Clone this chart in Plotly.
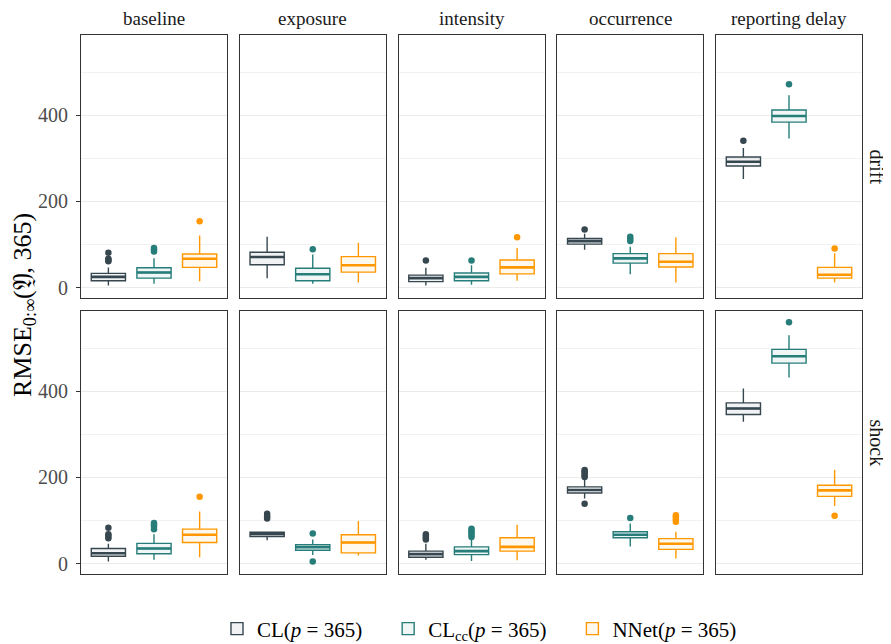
import plotly.graph_objects as go

# ---------------- data ----------------
scenarios = ["baseline", "exposure", "intensity", "occurrence", "reporting delay"]
rows = ["drift", "shock"]
methods = ["CL(<i>p</i> = 365)", "CL<sub>cc</sub>(<i>p</i> = 365)", "NNet(<i>p</i> = 365)"]
colors = ["#37474f", "#267d79", "#ff9800"]
fills = ["rgba(55,71,79,0.07)", "rgba(38,125,121,0.07)", "rgba(255,152,0,0.07)"]

# stats per row -> scenario -> method : [lowerfence, q1, median, q3, upperfence]
stats_drift = {
    "baseline":        [[5, 16, 25, 33, 47], [9, 22, 35, 46, 68], [15, 47, 67, 78, 121]],
    "exposure":        [[22, 53, 71, 82, 118], [9, 16, 31, 45, 77], [12, 36, 52, 72, 104]],
    "intensity":       [[5, 14, 22, 29, 46], [7, 16, 25, 34, 52], [16, 32, 47, 64, 92]],
    "occurrence":      [[88, 101, 108, 114, 125], [31, 57, 68, 79, 95], [12, 48, 60, 79, 117]],
    "reporting delay": [[252, 282, 292, 303, 324], [346, 384, 398, 412, 446], [12, 22, 30, 47, 80]],
}
outliers_drift = {
    "baseline":        [[61, 65, 67, 81], [84, 88, 92], [154]],
    "exposure":        [[], [89], []],
    "intensity":       [[63], [63], [117]],
    "occurrence":      [[135], [108, 113, 118], []],
    "reporting delay": [[341], [472], [91]],
}
stats_shock = {
    "baseline":        [[5, 17, 24, 35, 46], [9, 23, 35, 47, 68], [15, 49, 67, 80, 121]],
    "exposure":        [[54, 63, 69, 73, 73], [20, 31, 38, 44, 56], [19, 25, 49, 67, 99]],
    "intensity":       [[9, 15, 22, 29, 46], [6, 21, 29, 39, 56], [8, 29, 39, 60, 90]],
    "occurrence":      [[151, 164, 171, 178, 196], [40, 60, 67, 74, 93], [12, 33, 46, 58, 74]],
    "reporting delay": [[329, 346, 360, 373, 406], [432, 465, 481, 497, 530], [134, 156, 170, 182, 218]],
}
outliers_shock = {
    "baseline":        [[59, 64, 68, 83], [80, 86, 91, 94], [155]],
    "exposure":        [[105, 110, 116], [5, 70], []],
    "intensity":       [[56, 60, 64, 68], [62, 67, 72, 77, 81], []],
    "occurrence":      [[139, 201, 205, 210, 214, 217], [106], [97, 103, 108, 112]],
    "reporting delay": [[], [560], [111]],
}
all_stats = [stats_drift, stats_shock]
all_outliers = [outliers_drift, outliers_shock]

y_ticks = [0, 200, 400]
y_range = [-24, 586]
# --------------------------------------

# page body has an 8px default margin; lay out in window pixels, then shift
OFF = 8
W, H = 891 - OFF, 644 - OFF
L, R, T, B = 81 - OFF, 862 - OFF, 35 - OFF, 574 - OFF
pw, ph = R - L, B - T
col_left = [c - OFF for c in [81, 239.75, 398.5, 557.25, 716]]
col_w = 146
row_top = [r - OFF for r in [35, 311]]
row_h = 263


def px_x(x):
    return (x - OFF - L) / pw


def px_y(y):
    return (B - (y - OFF)) / ph


fig = go.Figure()
layout = {}
box_w = 0.75
serif = "Liberation Serif, DejaVu Serif, serif"
pads = ["&nbsp;" * 4, "&nbsp;" * 4, ""]

for ri in range(2):
    for ci, sc in enumerate(scenarios):
        idx = ri * 5 + ci + 1
        xa = "x" if idx == 1 else f"x{idx}"
        ya = "y" if idx == 1 else f"y{idx}"
        for mi in range(3):
            lf, q1, md, q3, uf = all_stats[ri][sc][mi]
            pos = mi + 1
            fig.add_trace(go.Box(
                x=[pos], q1=[q1], median=[md], q3=[q3], lowerfence=[lf], upperfence=[uf],
                width=box_w, whiskerwidth=0, line=dict(color=colors[mi], width=1.4),
                fillcolor=fills[mi], name=methods[mi] + pads[mi], legendgroup=methods[mi],
                showlegend=(idx == 1), xaxis=xa, yaxis=ya, hoverinfo="skip",
                boxpoints=False))
            # thicker median line
            fig.add_trace(go.Scatter(
                x=[pos - box_w / 2, pos + box_w / 2], y=[md, md], mode="lines",
                line=dict(color=colors[mi], width=2.6), showlegend=False,
                xaxis=xa, yaxis=ya, hoverinfo="skip"))
            outs = all_outliers[ri][sc][mi]
            if outs:
                fig.add_trace(go.Scatter(
                    x=[pos] * len(outs), y=outs, mode="markers",
                    marker=dict(color=colors[mi], size=6.5), showlegend=False,
                    xaxis=xa, yaxis=ya, hoverinfo="skip"))
        x0 = (col_left[ci] - L) / pw
        x1 = (col_left[ci] + col_w - L) / pw
        y1 = (B - row_top[ri]) / ph
        y0 = (B - row_top[ri] - row_h) / ph
        layout["xaxis" if idx == 1 else f"xaxis{idx}"] = dict(
            domain=[x0, x1], anchor=ya, range=[0.4, 3.6], showticklabels=False,
            showgrid=False, zeroline=False, ticks="", mirror=True, showline=True,
            linecolor="#333333", linewidth=1.1, fixedrange=True)
        layout["yaxis" if idx == 1 else f"yaxis{idx}"] = dict(
            domain=[y0, y1], anchor=xa, range=y_range, tickvals=y_ticks,
            showticklabels=(ci == 0), ticks="outside" if ci == 0 else "",
            ticklen=4, tickcolor="#333333", tickwidth=1, ticklabelstandoff=4,
            tickfont=dict(family=serif, size=20, color="#4d4d4d"),
            showgrid=True, gridcolor="#ebebeb", gridwidth=1.1, zeroline=False,
            minor=dict(tickvals=[100, 300, 500], showgrid=True, gridcolor="#f2f2f2", gridwidth=0.8, ticks=""),
            mirror=True, showline=True, linecolor="#333333", linewidth=1.1, fixedrange=True)

annotations = []
for ci, sc in enumerate(scenarios):
    xc = (col_left[ci] + col_w / 2 - L) / pw
    annotations.append(dict(text=sc, x=xc, y=px_y(18), xref="paper", yref="paper",
                            showarrow=False, xanchor="center", yanchor="middle",
                            font=dict(family=serif, size=19, color="#1a1a1a")))
for ri, rn in enumerate(rows):
    yc = (B - row_top[ri] - row_h / 2) / ph
    annotations.append(dict(text=rn, x=px_x(877), y=yc, xref="paper", yref="paper",
                            showarrow=False, xanchor="center", yanchor="middle", textangle=90,
                            font=dict(family=serif, size=20, color="#1a1a1a")))
annotations.append(dict(text="RMSE<sub>0:∞</sub>(𝔜, 365)", x=px_x(24), y=px_y(305),
                        xref="paper", yref="paper", showarrow=False, xanchor="center",
                        yanchor="middle", textangle=-90,
                        font=dict(family=serif, size=26, color="#000000")))

fig.update_layout(
    width=W, height=H, paper_bgcolor="white", plot_bgcolor="white",
    margin=dict(l=L, r=W - R, t=T, b=H - B, pad=0, autoexpand=False),
    annotations=annotations,
    legend=dict(orientation="h", x=px_x(217), xanchor="left", y=px_y(629), yanchor="middle",
                font=dict(family=serif, size=21, color="#000000"), itemwidth=30,
                tracegroupgap=0, bgcolor="rgba(0,0,0,0)"),
    **layout)

fig.write_html("out.html")
